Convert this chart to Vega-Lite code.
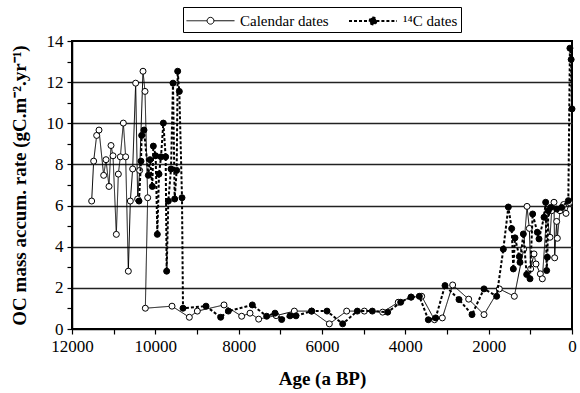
{
  "$schema": "https://vega.github.io/schema/vega-lite/v6.json",
  "width": 500,
  "height": 288,
  "autosize": {"type": "none"},
  "padding": {"left": 72, "top": 41, "right": 8, "bottom": 64},
  "background": "white",
  "data": {
    "values": [
      {"s": "Calendar dates", "n": 1, "age": 11528, "rate": 6.22},
      {"s": "Calendar dates", "n": 2, "age": 11480, "rate": 8.16},
      {"s": "Calendar dates", "n": 3, "age": 11408, "rate": 9.41},
      {"s": "Calendar dates", "n": 4, "age": 11352, "rate": 9.67},
      {"s": "Calendar dates", "n": 5, "age": 11240, "rate": 7.47},
      {"s": "Calendar dates", "n": 6, "age": 11184, "rate": 8.23},
      {"s": "Calendar dates", "n": 7, "age": 11112, "rate": 6.93},
      {"s": "Calendar dates", "n": 8, "age": 11064, "rate": 8.92},
      {"s": "Calendar dates", "n": 9, "age": 11016, "rate": 8.42},
      {"s": "Calendar dates", "n": 10, "age": 10936, "rate": 4.6},
      {"s": "Calendar dates", "n": 11, "age": 10888, "rate": 7.53},
      {"s": "Calendar dates", "n": 12, "age": 10840, "rate": 8.37},
      {"s": "Calendar dates", "n": 13, "age": 10768, "rate": 10.01},
      {"s": "Calendar dates", "n": 14, "age": 10712, "rate": 8.37},
      {"s": "Calendar dates", "n": 15, "age": 10648, "rate": 2.81},
      {"s": "Calendar dates", "n": 16, "age": 10600, "rate": 6.22},
      {"s": "Calendar dates", "n": 17, "age": 10544, "rate": 7.78},
      {"s": "Calendar dates", "n": 18, "age": 10472, "rate": 11.95},
      {"s": "Calendar dates", "n": 19, "age": 10424, "rate": 6.32},
      {"s": "Calendar dates", "n": 20, "age": 10376, "rate": 7.71},
      {"s": "Calendar dates", "n": 21, "age": 10296, "rate": 12.53},
      {"s": "Calendar dates", "n": 22, "age": 10248, "rate": 11.55},
      {"s": "Calendar dates", "n": 23, "age": 10184, "rate": 6.38},
      {"s": "Calendar dates", "n": 24, "age": 10240, "rate": 1.01},
      {"s": "Calendar dates", "n": 25, "age": 9600, "rate": 1.11},
      {"s": "Calendar dates", "n": 26, "age": 9184, "rate": 0.57},
      {"s": "Calendar dates", "n": 27, "age": 8992, "rate": 0.87},
      {"s": "Calendar dates", "n": 28, "age": 8352, "rate": 1.17},
      {"s": "Calendar dates", "n": 29, "age": 7928, "rate": 0.62},
      {"s": "Calendar dates", "n": 30, "age": 7728, "rate": 0.77},
      {"s": "Calendar dates", "n": 31, "age": 7520, "rate": 0.48},
      {"s": "Calendar dates", "n": 32, "age": 7100, "rate": 0.65},
      {"s": "Calendar dates", "n": 33, "age": 6664, "rate": 0.87},
      {"s": "Calendar dates", "n": 34, "age": 6250, "rate": 0.87},
      {"s": "Calendar dates", "n": 35, "age": 5824, "rate": 0.25},
      {"s": "Calendar dates", "n": 36, "age": 5408, "rate": 0.87},
      {"s": "Calendar dates", "n": 37, "age": 4984, "rate": 0.87},
      {"s": "Calendar dates", "n": 38, "age": 4544, "rate": 0.82},
      {"s": "Calendar dates", "n": 39, "age": 4170, "rate": 1.3},
      {"s": "Calendar dates", "n": 40, "age": 3860, "rate": 1.55},
      {"s": "Calendar dates", "n": 41, "age": 3608, "rate": 1.59},
      {"s": "Calendar dates", "n": 42, "age": 3300, "rate": 0.45},
      {"s": "Calendar dates", "n": 43, "age": 3112, "rate": 0.54},
      {"s": "Calendar dates", "n": 44, "age": 2864, "rate": 2.14},
      {"s": "Calendar dates", "n": 45, "age": 2480, "rate": 1.45},
      {"s": "Calendar dates", "n": 46, "age": 2112, "rate": 0.7},
      {"s": "Calendar dates", "n": 47, "age": 1744, "rate": 1.95},
      {"s": "Calendar dates", "n": 48, "age": 1384, "rate": 1.59},
      {"s": "Calendar dates", "n": 49, "age": 1160, "rate": 3.88},
      {"s": "Calendar dates", "n": 50, "age": 1080, "rate": 5.96},
      {"s": "Calendar dates", "n": 51, "age": 1024, "rate": 4.89},
      {"s": "Calendar dates", "n": 52, "age": 992, "rate": 2.92},
      {"s": "Calendar dates", "n": 53, "age": 912, "rate": 3.65},
      {"s": "Calendar dates", "n": 54, "age": 864, "rate": 3.16},
      {"s": "Calendar dates", "n": 55, "age": 760, "rate": 2.68},
      {"s": "Calendar dates", "n": 56, "age": 712, "rate": 2.44},
      {"s": "Calendar dates", "n": 57, "age": 608, "rate": 5.59},
      {"s": "Calendar dates", "n": 58, "age": 528, "rate": 4.46},
      {"s": "Calendar dates", "n": 59, "age": 488, "rate": 5.75},
      {"s": "Calendar dates", "n": 60, "age": 432, "rate": 6.16},
      {"s": "Calendar dates", "n": 61, "age": 416, "rate": 3.46},
      {"s": "Calendar dates", "n": 62, "age": 368, "rate": 5.23},
      {"s": "Calendar dates", "n": 63, "age": 352, "rate": 4.41},
      {"s": "Calendar dates", "n": 64, "age": 288, "rate": 5.75},
      {"s": "Calendar dates", "n": 65, "age": 200, "rate": 6.05},
      {"s": "Calendar dates", "n": 66, "age": 144, "rate": 5.62},
      {"s": "Calendar dates", "n": 67, "age": 60, "rate": 6.15},
      {"s": "¹⁴C dates", "n": 1, "age": 10392, "rate": 6.22},
      {"s": "¹⁴C dates", "n": 2, "age": 10344, "rate": 8.16},
      {"s": "¹⁴C dates", "n": 3, "age": 10328, "rate": 9.41},
      {"s": "¹⁴C dates", "n": 4, "age": 10272, "rate": 9.67},
      {"s": "¹⁴C dates", "n": 5, "age": 10168, "rate": 7.47},
      {"s": "¹⁴C dates", "n": 6, "age": 10128, "rate": 8.23},
      {"s": "¹⁴C dates", "n": 7, "age": 10072, "rate": 6.93},
      {"s": "¹⁴C dates", "n": 8, "age": 10048, "rate": 8.89},
      {"s": "¹⁴C dates", "n": 9, "age": 9992, "rate": 8.42},
      {"s": "¹⁴C dates", "n": 10, "age": 9952, "rate": 4.6},
      {"s": "¹⁴C dates", "n": 11, "age": 9912, "rate": 7.53},
      {"s": "¹⁴C dates", "n": 12, "age": 9864, "rate": 8.37},
      {"s": "¹⁴C dates", "n": 13, "age": 9808, "rate": 10.01},
      {"s": "¹⁴C dates", "n": 14, "age": 9752, "rate": 8.37},
      {"s": "¹⁴C dates", "n": 15, "age": 9728, "rate": 2.81},
      {"s": "¹⁴C dates", "n": 16, "age": 9688, "rate": 6.22},
      {"s": "¹⁴C dates", "n": 17, "age": 9624, "rate": 7.78},
      {"s": "¹⁴C dates", "n": 18, "age": 9576, "rate": 11.95},
      {"s": "¹⁴C dates", "n": 19, "age": 9536, "rate": 6.32},
      {"s": "¹⁴C dates", "n": 20, "age": 9488, "rate": 7.71},
      {"s": "¹⁴C dates", "n": 21, "age": 9464, "rate": 12.53},
      {"s": "¹⁴C dates", "n": 22, "age": 9424, "rate": 11.55},
      {"s": "¹⁴C dates", "n": 23, "age": 9360, "rate": 6.38},
      {"s": "¹⁴C dates", "n": 24, "age": 9336, "rate": 1.01},
      {"s": "¹⁴C dates", "n": 25, "age": 8784, "rate": 1.11},
      {"s": "¹⁴C dates", "n": 26, "age": 8432, "rate": 0.57},
      {"s": "¹⁴C dates", "n": 27, "age": 8248, "rate": 0.87},
      {"s": "¹⁴C dates", "n": 28, "age": 7672, "rate": 1.17},
      {"s": "¹⁴C dates", "n": 29, "age": 7328, "rate": 0.62},
      {"s": "¹⁴C dates", "n": 30, "age": 7128, "rate": 0.77},
      {"s": "¹⁴C dates", "n": 31, "age": 6968, "rate": 0.46},
      {"s": "¹⁴C dates", "n": 32, "age": 6768, "rate": 0.64},
      {"s": "¹⁴C dates", "n": 33, "age": 6624, "rate": 0.64},
      {"s": "¹⁴C dates", "n": 34, "age": 6248, "rate": 0.87},
      {"s": "¹⁴C dates", "n": 35, "age": 5880, "rate": 0.87},
      {"s": "¹⁴C dates", "n": 36, "age": 5504, "rate": 0.25},
      {"s": "¹⁴C dates", "n": 37, "age": 5152, "rate": 0.87},
      {"s": "¹⁴C dates", "n": 38, "age": 4792, "rate": 0.87},
      {"s": "¹⁴C dates", "n": 39, "age": 4424, "rate": 0.82},
      {"s": "¹⁴C dates", "n": 40, "age": 4112, "rate": 1.3},
      {"s": "¹⁴C dates", "n": 41, "age": 3864, "rate": 1.55},
      {"s": "¹⁴C dates", "n": 42, "age": 3664, "rate": 1.59},
      {"s": "¹⁴C dates", "n": 43, "age": 3448, "rate": 0.45},
      {"s": "¹⁴C dates", "n": 44, "age": 3272, "rate": 0.54},
      {"s": "¹⁴C dates", "n": 45, "age": 3048, "rate": 2.11},
      {"s": "¹⁴C dates", "n": 46, "age": 2712, "rate": 1.43},
      {"s": "¹⁴C dates", "n": 47, "age": 2400, "rate": 0.7},
      {"s": "¹⁴C dates", "n": 48, "age": 2112, "rate": 1.95},
      {"s": "¹⁴C dates", "n": 49, "age": 1808, "rate": 1.59},
      {"s": "¹⁴C dates", "n": 50, "age": 1648, "rate": 3.88},
      {"s": "¹⁴C dates", "n": 51, "age": 1528, "rate": 5.93},
      {"s": "¹⁴C dates", "n": 52, "age": 1448, "rate": 4.88},
      {"s": "¹⁴C dates", "n": 53, "age": 1408, "rate": 2.92},
      {"s": "¹⁴C dates", "n": 54, "age": 1368, "rate": 4.43},
      {"s": "¹⁴C dates", "n": 55, "age": 1264, "rate": 3.52},
      {"s": "¹⁴C dates", "n": 56, "age": 1248, "rate": 3.24},
      {"s": "¹⁴C dates", "n": 57, "age": 1168, "rate": 4.62},
      {"s": "¹⁴C dates", "n": 58, "age": 1088, "rate": 2.65},
      {"s": "¹⁴C dates", "n": 59, "age": 1008, "rate": 2.44},
      {"s": "¹⁴C dates", "n": 60, "age": 944, "rate": 5.59},
      {"s": "¹⁴C dates", "n": 61, "age": 832, "rate": 4.7},
      {"s": "¹⁴C dates", "n": 62, "age": 792, "rate": 4.38},
      {"s": "¹⁴C dates", "n": 63, "age": 672, "rate": 5.43},
      {"s": "¹⁴C dates", "n": 64, "age": 632, "rate": 6.16},
      {"s": "¹⁴C dates", "n": 65, "age": 608, "rate": 2.84},
      {"s": "¹⁴C dates", "n": 66, "age": 592, "rate": 3.49},
      {"s": "¹⁴C dates", "n": 67, "age": 568, "rate": 5.75},
      {"s": "¹⁴C dates", "n": 68, "age": 512, "rate": 5.91},
      {"s": "¹⁴C dates", "n": 69, "age": 368, "rate": 5.83},
      {"s": "¹⁴C dates", "n": 70, "age": 248, "rate": 5.91},
      {"s": "¹⁴C dates", "n": 71, "age": 88, "rate": 6.24},
      {"s": "¹⁴C dates", "n": 72, "age": 50, "rate": 13.65},
      {"s": "¹⁴C dates", "n": 73, "age": 20, "rate": 13.1},
      {"s": "¹⁴C dates", "n": 74, "age": 0, "rate": 10.7}
    ]
  },
  "encoding": {
    "x": {
      "field": "age",
      "type": "quantitative",
      "scale": {"domain": [0, 12000], "reverse": true, "nice": false},
      "axis": {
        "values": [0, 1000, 2000, 3000, 4000, 5000, 6000, 7000, 8000, 9000, 10000, 11000, 12000],
        "labelExpr": "datum.value % 2000 == 0 ? format(datum.value, 'd') : ''",
        "grid": false,
        "tickSize": 5,
        "labelPadding": 4,
        "labelFlush": false,
        "title": "Age (a BP)",
        "titlePadding": 15
      }
    },
    "y": {
      "field": "rate",
      "type": "quantitative",
      "scale": {"domain": [0, 14], "nice": false},
      "axis": {
        "values": [0, 1, 2, 3, 4, 5, 6, 7, 8, 9, 10, 11, 12, 13, 14],
        "labelExpr": "datum.value % 2 == 0 ? datum.label : ''",
        "grid": true,
        "gridOpacity": {"condition": {"test": "datum.value % 2 == 0 && datum.value > 0 && datum.value < 14", "value": 1}, "value": 0},
        "tickSize": 5,
        "labelPadding": 4,
        "labelFlush": false,
        "title": "OC mass accum. rate (gC.m⁻².yr⁻¹)",
        "titlePadding": 17
      }
    },
    "order": {"field": "n", "type": "quantitative"}
  },
  "layer": [
    {
      "transform": [{"filter": "datum.s == 'Calendar dates'"}],
      "mark": {"type": "line", "color": "black"},
      "encoding": {
        "strokeDash": {"field": "s", "type": "nominal", "scale": {"domain": ["Calendar dates", "¹⁴C dates"], "range": [[1, 0], [3, 2]]}, "legend": {"title": null}},
        "strokeWidth": {"field": "s", "type": "nominal", "scale": {"domain": ["Calendar dates", "¹⁴C dates"], "range": [1, 2]}, "legend": {"title": null}}
      }
    },
    {
      "transform": [{"filter": "datum.s == 'Calendar dates'"}],
      "mark": {"type": "point", "shape": "circle", "filled": true, "stroke": "black", "strokeWidth": 1, "size": 36, "opacity": 1},
      "encoding": {
        "fill": {"field": "s", "type": "nominal", "scale": {"domain": ["Calendar dates", "¹⁴C dates"], "range": ["white", "black"]}, "legend": {"title": null}}
      }
    },
    {
      "transform": [{"filter": "datum.s != 'Calendar dates'"}],
      "mark": {"type": "line", "color": "black"},
      "encoding": {
        "strokeDash": {"field": "s", "type": "nominal", "scale": {"domain": ["Calendar dates", "¹⁴C dates"], "range": [[1, 0], [3, 2]]}, "legend": {"title": null}},
        "strokeWidth": {"field": "s", "type": "nominal", "scale": {"domain": ["Calendar dates", "¹⁴C dates"], "range": [1, 2]}, "legend": {"title": null}}
      }
    },
    {
      "transform": [{"filter": "datum.s != 'Calendar dates'"}],
      "mark": {"type": "point", "shape": "circle", "filled": true, "stroke": "black", "strokeWidth": 1, "size": 36, "opacity": 1},
      "encoding": {
        "fill": {
          "field": "s",
          "type": "nominal",
          "scale": {"domain": ["Calendar dates", "¹⁴C dates"], "range": ["white", "black"]},
          "legend": {
            "orient": "none",
            "legendX": 111,
            "legendY": -34,
            "direction": "horizontal",
            "title": null,
            "strokeColor": "black",
            "fillColor": "white",
            "padding": 3,
            "symbolType": "M-1,0H1.06M1.74,0H3.8M1.74,0A0.34,0.34,0,1,1,1.06,0A0.34,0.34,0,1,1,1.74,0",
            "symbolSize": 400,
            "symbolStrokeColor": "black",
            "labelFont": "Times New Roman",
            "labelFontSize": 15,
            "labelColor": "black",
            "labelOffset": 33,
            "columnPadding": 16,
            "encode": {
              "symbols": {
                "update": {
                  "stroke": {"value": "black"}
                }
              }
            }
          }
        }
      }
    }
  ],
  "config": {
    "view": {"stroke": "black", "strokeWidth": 2},
    "font": "Times New Roman",
    "axis": {
      "domainColor": "black",
      "domainWidth": 1.5,
      "tickColor": "black",
      "tickWidth": 1.2,
      "labelColor": "black",
      "titleColor": "black",
      "labelFont": "Times New Roman",
      "titleFont": "Times New Roman",
      "labelFontSize": 17,
      "titleFontSize": 19,
      "titleFontWeight": "bold",
      "gridColor": "#222222",
      "gridWidth": 1.3
    }
  }
}
